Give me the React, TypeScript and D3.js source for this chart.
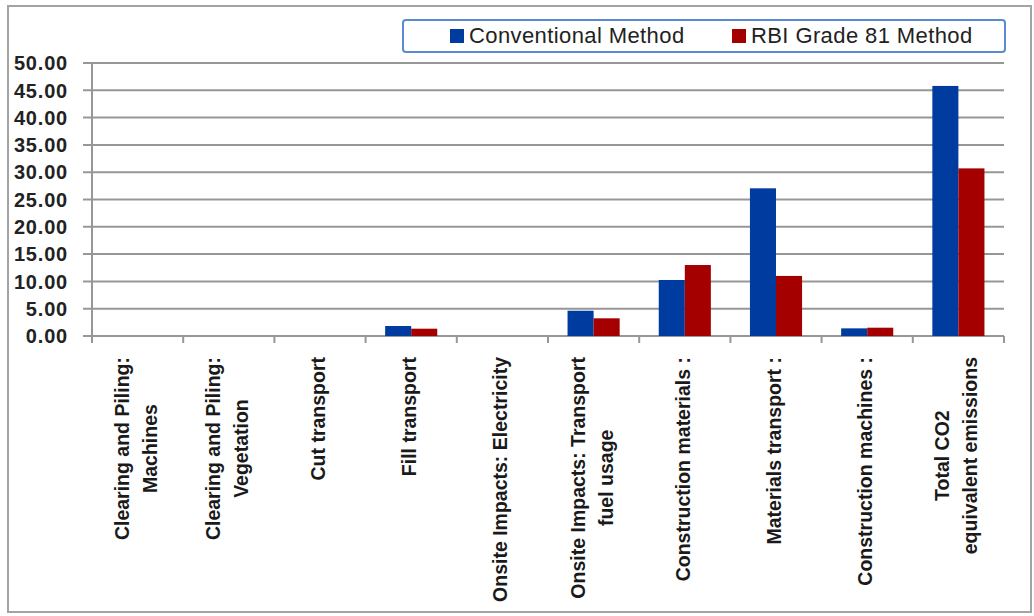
import React, { useEffect, useRef } from "react";
import * as d3 from "d3";

// Emission sources (label lines as they wrap under the axis)
const categoryLines: string[][] = [
  ["Clearing and Piling:", "Machines"],
  ["Clearing and Piling:", "Vegetation"],
  ["Cut transport"],
  ["Fill transport"],
  ["Onsite Impacts: Electricity"],
  ["Onsite Impacts: Transport", "fuel usage"],
  ["Construction materials :"],
  ["Materials transport :"],
  ["Construction machines :"],
  ["Total CO2", "equivalent emissions"],
];

const seriesNames = ["Conventional Method", "RBI Grade 81 Method"];
const conventional = [0, 0, 0, 1.83, 0, 4.63, 10.26, 27.05, 1.4, 45.8];
const rbiGrade81 = [0, 0, 0, 1.34, 0, 3.24, 13.0, 11.0, 1.52, 30.7];
const yTicks = [0, 5, 10, 15, 20, 25, 30, 35, 40, 45, 50];
const seriesColors = ["#003c9f", "#a50000"];

const W = 1034;
const H = 616;
const FONT = "'Liberation Sans', Arial, sans-serif";

export default function App() {
  const ref = useRef<SVGSVGElement>(null);

  useEffect(() => {
    const svg = d3.select(ref.current);
    svg.selectAll("*").remove();

    const plot = { left: 92, right: 1004, top: 63, bottom: 336 };
    const keys = categoryLines.map((_, i) => String(i));

    const x0 = d3.scaleBand<string>().domain(keys).range([plot.left, plot.right]).padding(0);
    const x1 = d3
      .scaleBand<string>()
      .domain(seriesNames)
      .range([0, x0.bandwidth()])
      .paddingInner(0)
      .paddingOuter(0.75);
    const y = d3.scaleLinear().domain([0, 50]).range([plot.bottom, plot.top]);

    // chart frame
    svg
      .append("rect")
      .attr("x", 8)
      .attr("y", 6)
      .attr("width", 1023)
      .attr("height", 606)
      .attr("fill", "#fff")
      .attr("stroke", "#a3a3a3")
      .attr("stroke-width", 2);

    // horizontal gridlines (extend left as tick marks)
    svg
      .append("g")
      .selectAll("line")
      .data(yTicks)
      .join("line")
      .attr("x1", plot.left - 9)
      .attr("x2", plot.right)
      .attr("y1", (d) => y(d))
      .attr("y2", (d) => y(d))
      .attr("stroke", "#979797")
      .attr("stroke-width", 2);

    // y axis line
    svg
      .append("line")
      .attr("x1", plot.left)
      .attr("x2", plot.left)
      .attr("y1", plot.top)
      .attr("y2", plot.bottom)
      .attr("stroke", "#979797")
      .attr("stroke-width", 2);

    // category tick marks under the axis
    const boundaries = keys.map((k) => x0(k) as number).concat([plot.right]);
    svg
      .append("g")
      .selectAll("line")
      .data(boundaries)
      .join("line")
      .attr("x1", (d) => d)
      .attr("x2", (d) => d)
      .attr("y1", plot.bottom)
      .attr("y2", plot.bottom + 7)
      .attr("stroke", "#979797")
      .attr("stroke-width", 2);

    // y tick labels
    svg
      .append("g")
      .selectAll("text")
      .data(yTicks)
      .join("text")
      .attr("x", 68)
      .attr("y", (d) => y(d))
      .attr("dy", "0.36em")
      .attr("text-anchor", "end")
      .attr("font-family", FONT)
      .attr("font-weight", "bold")
      .attr("font-size", 20)
      .attr("letter-spacing", 0.8)
      .attr("fill", "#222")
      .text((d) => d3.format(".2f")(d));

    // bars
    const seriesValues = [conventional, rbiGrade81];
    seriesNames.forEach((name, si) => {
      svg
        .append("g")
        .selectAll("rect")
        .data(seriesValues[si])
        .join("rect")
        .attr("x", (_, i) => (x0(keys[i]) as number) + (x1(name) as number))
        .attr("width", x1.bandwidth())
        .attr("y", (d) => y(d))
        .attr("height", (d) => y(0) - y(d))
        .attr("fill", seriesColors[si]);
    });

    // category labels, rotated, top-aligned block with centred lines
    const labelTop = 357;
    const lineGap = 28;
    categoryLines.forEach((lines, i) => {
      const cx = (x0(keys[i]) as number) + x0.bandwidth() / 2;
      const g = svg.append("g").attr("transform", `translate(${cx},${labelTop}) rotate(-90)`);
      const texts = lines.map((line, li) =>
        g
          .append("text")
          .attr("y", (li - (lines.length - 1) / 2) * lineGap + 5)
          .attr("text-anchor", "middle")
          .attr("font-family", FONT)
          .attr("font-weight", "bold")
          .attr("font-size", 19.5)
          .attr("fill", "#1a1a1a")
          .text(line)
      );
      const maxLen = d3.max(texts, (t) => (t.node() as SVGTextElement).getComputedTextLength()) || 0;
      texts.forEach((t) => t.attr("x", -maxLen / 2));
    });

    // legend
    const lg = svg.append("g");
    lg.append("rect")
      .attr("x", 403)
      .attr("y", 20)
      .attr("width", 602)
      .attr("height", 32)
      .attr("rx", 3)
      .attr("fill", "#fff")
      .attr("stroke", "#5a8bd2")
      .attr("stroke-width", 2);
    const legendX = [450, 732];
    seriesNames.forEach((name, si) => {
      lg.append("rect")
        .attr("x", legendX[si])
        .attr("y", 29)
        .attr("width", 14)
        .attr("height", 14)
        .attr("fill", seriesColors[si]);
      lg.append("text")
        .attr("x", legendX[si] + 19)
        .attr("y", 43)
        .attr("font-family", FONT)
        .attr("font-size", 22)
        .attr("letter-spacing", 0.4)
        .attr("fill", "#222")
        .text(name);
    });
  }, []);

  return (
    <svg
      ref={ref}
      width={W}
      height={H}
      style={{ position: "absolute", left: 0, top: 0, background: "#fff" }}
    />
  );
}
